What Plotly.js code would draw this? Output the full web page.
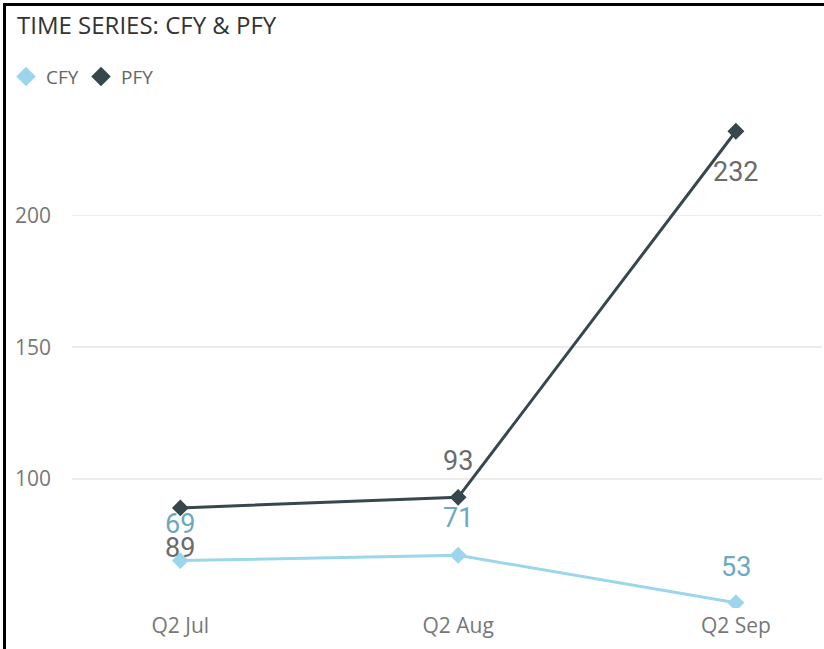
<!DOCTYPE html>
<html>
<head>
<meta charset="utf-8">
<script src="https://cdn.plot.ly/plotly-3.0.1.min.js"></script>
<style>
  html, body { margin: 0; padding: 0; background: #fff; width: 824px; height: 649px; overflow: hidden; }
  #frame { position: absolute; left: 3px; top: 3px; width: 821px; height: 646px; border-left: 3px solid #000; border-top: 3px solid #000; }
  #chart { width: 818px; height: 643px; }
</style>
</head>
<body>
<div id="frame"><div id="chart"></div></div>
<script>
const categories = ["Q2 Jul", "Q2 Aug", "Q2 Sep"];
const cfyValues = [69, 71, 53];
const pfyValues = [89, 93, 232];
const yTickVals = [100, 150, 200];
// label offsets (px) as placed in the reference
const cfyLabelShift = [37, 37, 36];
const pfyLabelShift = [-40, 36, -41];

const cfyColor = "#9cd6ec";
const pfyColor = "#36474d";

const traces = [
  { x: categories, y: cfyValues, name: "CFY", type: "scatter", mode: "lines+markers", showlegend: false,
    line: { color: cfyColor, width: 3 }, marker: { symbol: "diamond", size: 13, color: cfyColor } },
  { x: categories, y: pfyValues, name: "PFY", type: "scatter", mode: "lines+markers", showlegend: false,
    line: { color: pfyColor, width: 3 }, marker: { symbol: "diamond", size: 13, color: pfyColor } },
  // legend entries (diamond symbol only, as in the reference legend)
  { x: [null], y: [null], name: "CFY", type: "scatter", mode: "markers",
    marker: { symbol: "diamond", size: 15, color: cfyColor } },
  { x: [null], y: [null], name: "PFY", type: "scatter", mode: "markers",
    marker: { symbol: "diamond", size: 15, color: pfyColor } }
];

const labelFont = { family: "Roboto, 'DejaVu Sans', sans-serif", size: 27 };
const annotations = [];
categories.forEach((c, i) => {
  annotations.push({ x: c, y: cfyValues[i], text: String(cfyValues[i]), showarrow: false,
    yshift: cfyLabelShift[i], font: Object.assign({ color: "#6ba9c0" }, labelFont) });
  annotations.push({ x: c, y: pfyValues[i], text: String(pfyValues[i]), showarrow: false,
    yshift: pfyLabelShift[i], font: Object.assign({ color: "#6b6b6b" }, labelFont) });
});

const layout = {
  width: 818, height: 643,
  margin: { l: 66, r: 2, t: 91, b: 41 },
  paper_bgcolor: "#fff", plot_bgcolor: "#fff",
  font: { family: "'Open Sans', 'Noto Sans', sans-serif", color: "#777" },
  title: { text: "TIME SERIES: CFY & PFY", x: 0, xref: "container", xanchor: "left",
    y: 0.97, yref: "container", yanchor: "middle", pad: { l: 11 },
    font: { family: "'Open Sans', sans-serif", size: 24, color: "#333" } },
  showlegend: true,
  legend: { orientation: "h", xref: "container", x: -0.003, xanchor: "left",
    yref: "container", y: 0.89, yanchor: "middle", entrywidth: 30, entrywidthmode: "pixels",
    font: { size: 19, color: "#666" }, itemwidth: 30, tracegroupgap: 0 },
  xaxis: { type: "category", range: [-0.39, 2.31], showgrid: false, zeroline: false, showline: false,
    ticks: "", ticklabelstandoff: 3, tickfont: { size: 21, color: "#777" }, fixedrange: true },
  yaxis: { range: [51, 245], tickvals: yTickVals, showgrid: true, gridcolor: "#ececec", gridwidth: 1.5,
    zeroline: false, showline: false, ticks: "", ticklabelstandoff: 20, tickfont: { size: 21, color: "#777" }, fixedrange: true },
  annotations: annotations
};

Plotly.newPlot("chart", traces, layout, { displayModeBar: false, staticPlot: true });
</script>
</body>
</html>
